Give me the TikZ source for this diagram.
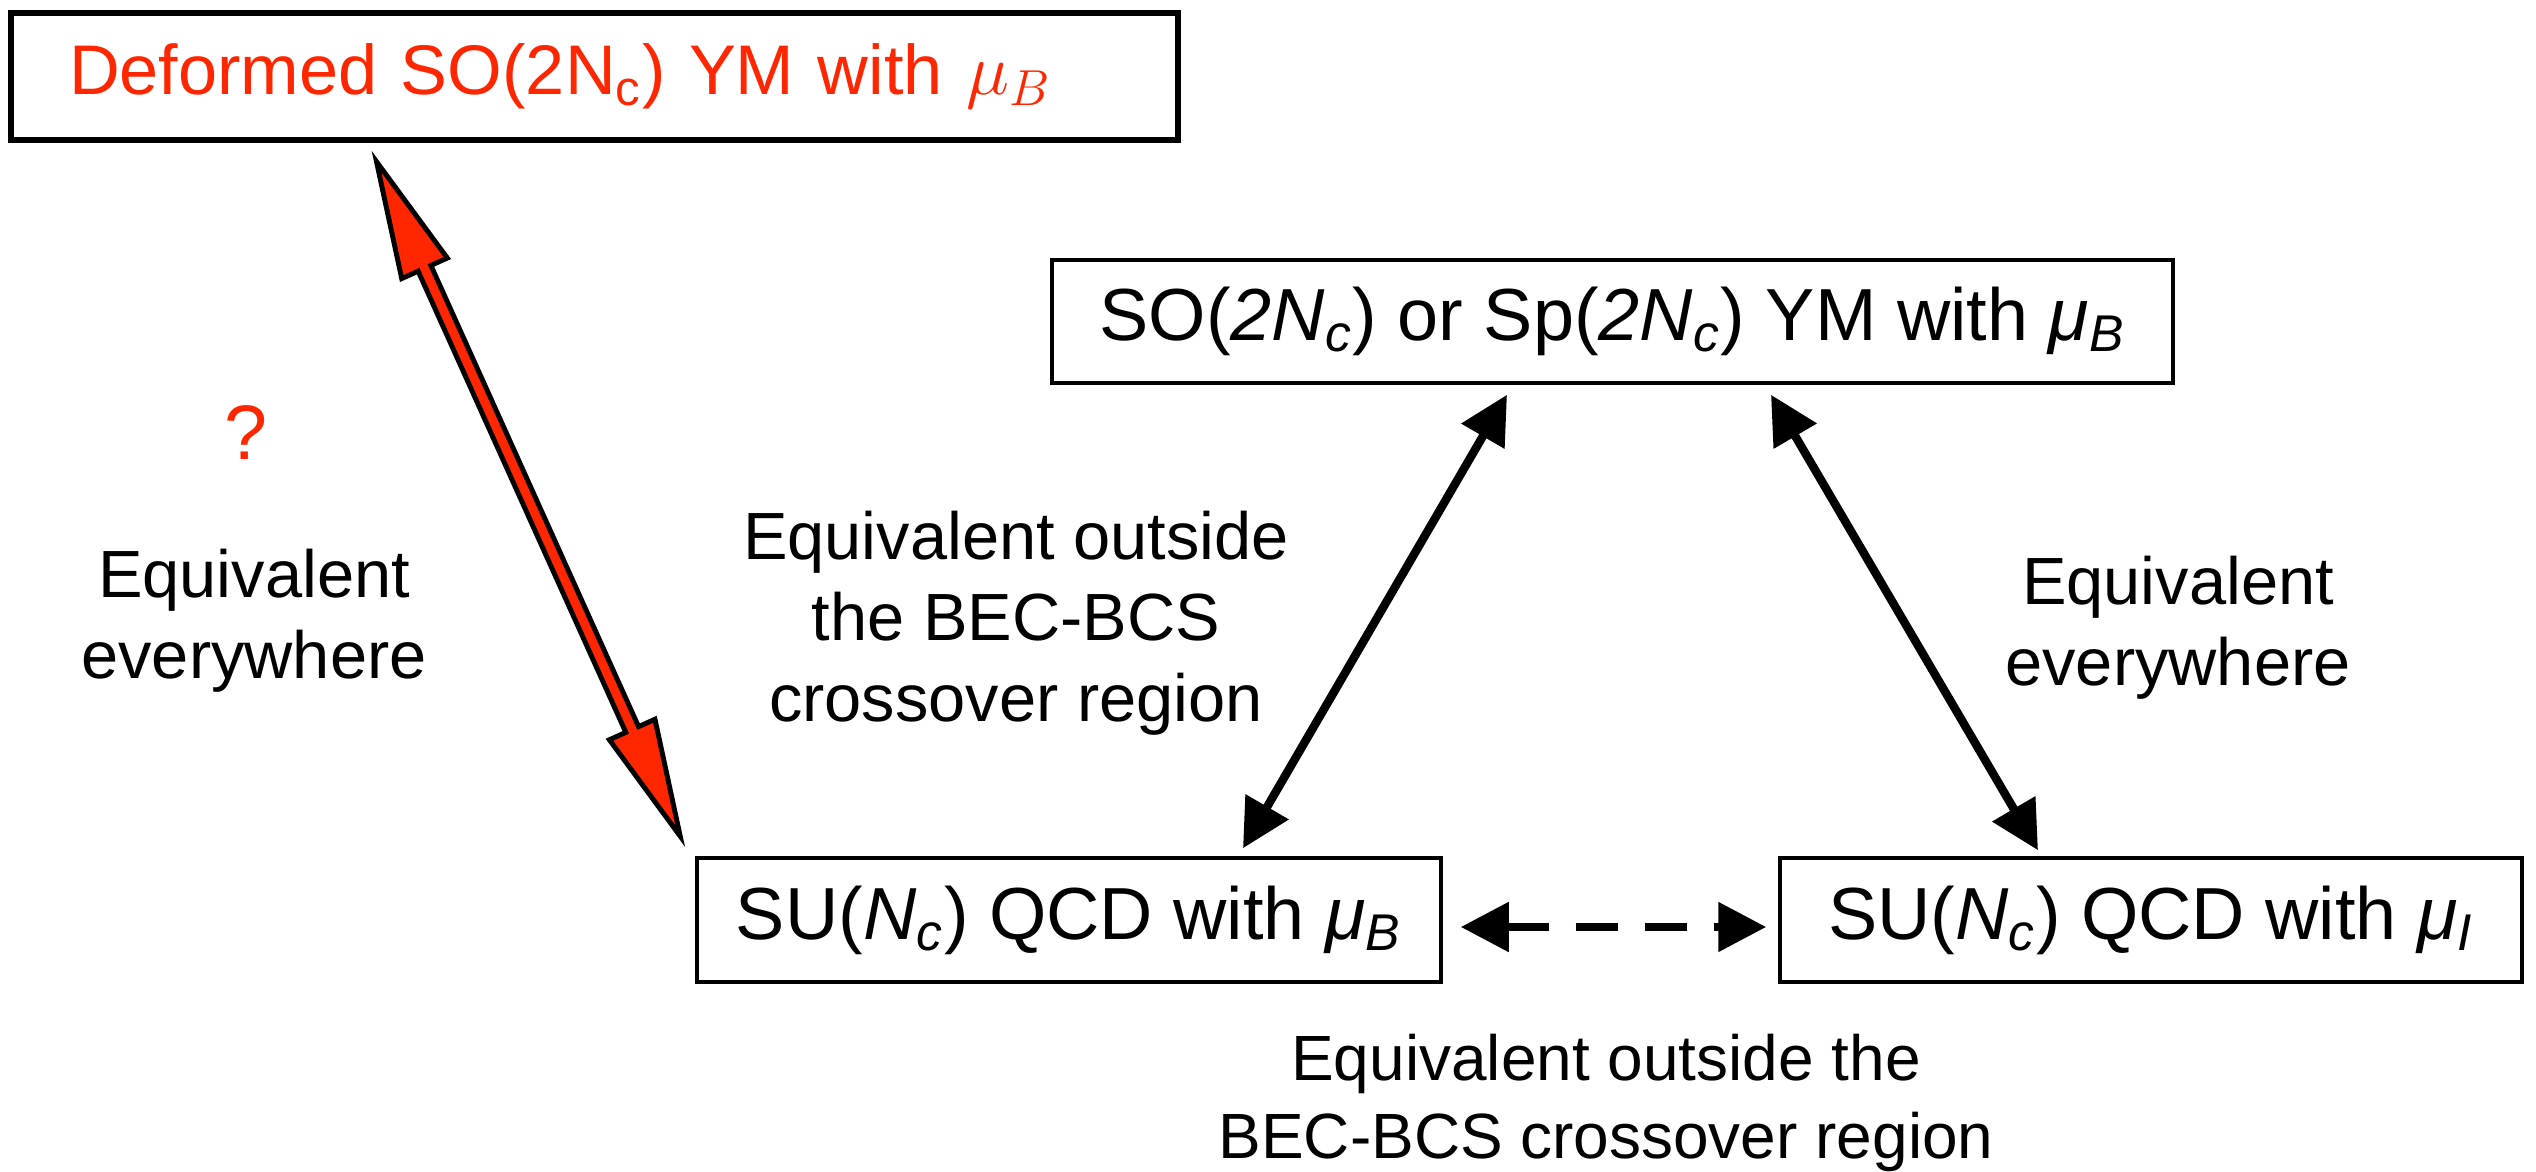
\documentclass[tikz,border=0pt]{standalone}
\usepackage{fontspec}
\setmainfont{Liberation Sans}
\usetikzlibrary{arrows.meta,calc}
\definecolor{hotred}{RGB}{255,38,0}
\newcommand{\Nc}{\textit{N}\textsubscript{\textit{c}}}
\newcommand{\muX}[1]{\textit{μ}\textsubscript{\textit{#1}}}

\begin{document}
\begin{tikzpicture}[
  box/.style={draw, line width=1pt, inner sep=0pt, font=\fontsize{21}{25}\selectfont},
  redbox/.style={draw, line width=1.5pt, minimum width=11.67cm, minimum height=1.27cm,
    text width=10.51cm, inner xsep=0.58cm, align=left, text=hotred, font=\fontsize{20}{24}\selectfont},
  lbl/.style={align=center, font=\fontsize{19}{23}\selectfont},
  twohead/.style={line width=2.4pt, {Triangle[length=0.48cm,width=0.48cm]}-{Triangle[length=0.48cm,width=0.48cm]}},
  blockarrow/.style={fill=hotred, draw=black, line width=1.4pt, line join=miter}
]
\useasboundingbox (0,0) rectangle (25.36,11.71);

% the four theories
\node[redbox] (def) at (5.945,10.945) {Deformed SO(2N\textsubscript{c}) YM with $\mu_B$};
\node[box, minimum width=11.21cm, minimum height=1.23cm] (sosp) at (16.125,8.495)
  {SO(\textit{2}\Nc) or Sp(\textit{2}\Nc) YM with \muX{B}};
\node[box, minimum width=7.44cm, minimum height=1.24cm] (qcdB) at (10.69,2.51) {SU(\Nc) QCD with \muX{B}};
\node[box, minimum width=7.42cm, minimum height=1.24cm] (qcdI) at (21.51,2.51) {SU(\Nc) QCD with \muX{I}};

% labels
\node[text=hotred, font=\fontsize{22}{26}\selectfont] (qmark) at (2.46,7.38) {?};
\node[lbl] (lblL) at (2.54,5.50) {Equivalent\\everywhere};
\node[lbl] (lblM) at (10.16,5.48) {Equivalent outside\\the BEC-BCS\\crossover region};
\node[lbl] (lblR) at (21.78,5.43) {Equivalent\\everywhere};
\node[lbl, font=\fontsize{18.2}{22.4}\selectfont] (lblB) at (16.06,0.68) {Equivalent outside the\\BEC-BCS crossover region};

% equivalences
\path[twohead]
([xshift=1.74cm,yshift=0.08cm]qcdB.north) edge ([xshift=-1.055cm,yshift=-0.1cm]sosp.south)
([xshift=1.585cm,yshift=-0.1cm]sosp.south) edge ([xshift=-1.13cm,yshift=0.06cm]qcdI.north)
([xshift=0.18cm,yshift=-0.07cm]qcdB.east) edge[dash pattern=on 0.42cm off 0.27cm] ([xshift=-0.12cm,yshift=-0.07cm]qcdI.west);

% big red double arrow
\coordinate (rtop) at ([xshift=-2.18cm,yshift=-0.19cm]def.south);
\coordinate (rbot) at ([xshift=-0.15cm,yshift=0.20cm]qcdB.north west);
\draw[blockarrow] let \p1=($(rbot)-(rtop)$), \n1={atan2(\y1,\x1)}, \n2={veclen(\x1,\y1)} in
  {[shift={(rtop)}, rotate=\n1]
   (0cm,0cm) -- (1.17cm,0.25cm) -- (1.17cm,0.07cm) -- ({\n2-1.17cm},0.07cm) -- ({\n2-1.17cm},0.25cm)
   -- ({\n2+0cm},0cm) -- ({\n2-1.17cm},-0.25cm) -- ({\n2-1.17cm},-0.07cm) -- (1.17cm,-0.07cm)
   -- (1.17cm,-0.25cm) -- cycle};
\end{tikzpicture}
\end{document}
